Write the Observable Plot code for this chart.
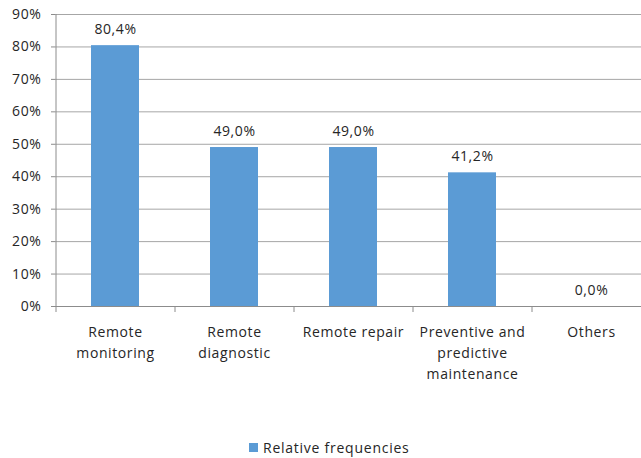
<!DOCTYPE html>
<html>
<head>
<meta charset="utf-8">
<script src="https://cdn.jsdelivr.net/npm/d3@7"></script>
<script src="https://cdn.jsdelivr.net/npm/@observablehq/plot@0.6"></script>
<style>
  html, body { margin: 0; padding: 0; background: #fff; overflow: hidden; width: 641px; height: 458px; }
  #chart { position: relative; width: 641px; height: 458px; font-family: "Open Sans", sans-serif; }
  #chart svg text { letter-spacing: 0.6px; }
  #legend { position: absolute; left: 249px; top: 438px; display: flex; align-items: center; font-size: 14px; letter-spacing: 0.75px; color: #262626; white-space: nowrap; }
  #legend .sw { width: 9px; height: 9px; background: #5B9BD5; margin-right: 5px; }
</style>
</head>
<body>
<div id="chart"></div>
<script>
const categories = ["Remote\nmonitoring", "Remote\ndiagnostic", "Remote repair", "Preventive and\npredictive\nmaintenance", "Others"];
const values = [0.804, 0.49, 0.49, 0.412, 0.0];
const yTicks = [0, 0.1, 0.2, 0.3, 0.4, 0.5, 0.6, 0.7, 0.8, 0.9];
const seriesName = "Relative frequencies";

const data = categories.map((c, i) => ({category: c, value: values[i]}));
const left = 55, right = 650, step = (right - left) / categories.length;
const fmt = v => (v * 100).toFixed(1).replace(".", ",") + "%";

const chart = Plot.plot({
  width: 641,
  height: 420,
  marginLeft: left,
  marginRight: 0,
  marginTop: 14,
  marginBottom: 114,
  style: {fontFamily: "Open Sans, sans-serif", fontSize: "14px", color: "#262626", overflow: "visible"},
  x: {domain: categories, range: [left, right], paddingInner: 0.6, paddingOuter: 0.3, axis: null},
  y: {domain: [0, 0.9], axis: null},
  marks: [
    Plot.gridY(yTicks, {stroke: "#a6a6a6", strokeOpacity: 1}),
    Plot.barY(data, {x: "category", y: "value", fill: "#5B9BD5"}),
    Plot.ruleX([categories[0]], {dx: -step / 2, stroke: "#8c8c8c"}),
    Plot.ruleY([0], {stroke: "#8c8c8c"}),
    Plot.axisY({ticks: yTicks, tickFormat: d => Math.round(d * 100) + "%", tickSize: 4, tickPadding: 10, stroke: "#8c8c8c", fontSize: 14, anchor: "left", label: null, fill: "#262626"}),
    Plot.axisX({tickSize: 6, tickFormat: null, dx: -step / 2, stroke: "#8c8c8c", label: null, text: null}),
    Plot.axisX({tickSize: 0, tickPadding: 16, lineHeight: 1.5, fontSize: 14, label: null, fill: "#262626"}),
    Plot.text(data, {x: "category", y: "value", text: d => fmt(d.value), dy: -16, fontSize: 14, fill: "#262626"})
  ]
});
document.getElementById("chart").appendChild(chart);
const leg = document.createElement("div");
leg.id = "legend";
leg.innerHTML = '<div class="sw"></div><span></span>';
leg.querySelector("span").textContent = seriesName;
document.getElementById("chart").appendChild(leg);
</script>
</body>
</html>
